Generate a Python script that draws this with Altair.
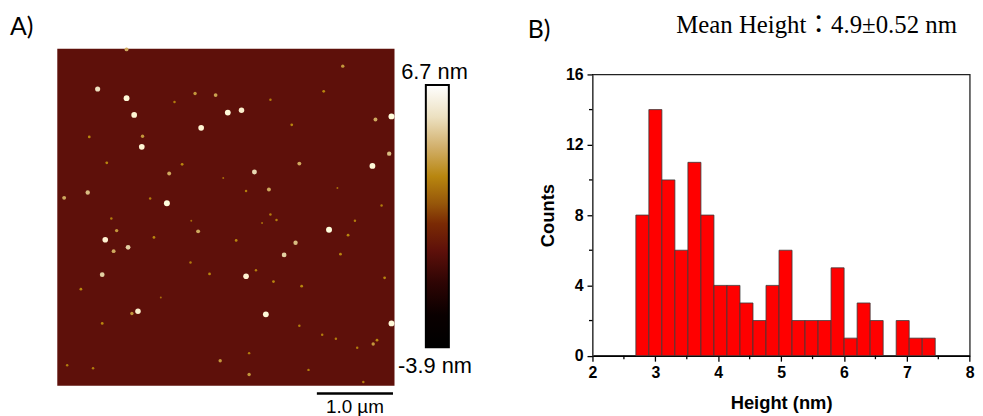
import altair as alt
import pandas as pd

# ---------------- Panel A : AFM height image ----------------
image_extent_um = [0.0, 4.43]
surface_level_nm = [0.0]
dot_x_um = [0.53, 0.91, 1.01, 2.24, 2.42, 1.89, 1.11, 4.14, 2.59, 1.44, 3.57, 0.63, 0.93, 3.13, 2.98, 2.48,
            0.59, 1.06, 2.74, 4.39, 4.39, 4.36, 0.40, 1.85, 1.47, 2.78, 3.18, 3.75, 3.50, 2.08, 1.81, 4.18,
            3.08, 0.42, 1.12, 1.64, 0.65, 0.09, 0.78, 0.74, 1.27, 2.35, 3.72, 3.82, 2.00, 2.84, 3.21, 0.31,
            1.36, 2.61, 4.30, 4.15, 4.20, 2.14, 2.52, 3.66, 3.48, 0.59, 0.13, 0.47, 3.94, 2.52, 3.18, 2.80,
            2.88, 2.48, 2.80, 1.54, 0.91, 3.91, 1.75, 1.22, 1.76, 0.71, 4.26, 3.68, 2.18, 2.69, 0.98, 4.02, 3.30]
dot_y_um = [0.53, 0.65, 0.87, 0.84, 0.81, 1.04, 1.29, 1.54, 1.62, 2.03, 2.38, 2.51, 2.61, 2.55, 2.71, 2.99,
            2.97, 3.45, 3.49, 3.61, 0.89, 1.38, 1.89, 2.40, 1.64, 1.85, 1.51, 0.23, 0.56, 0.61, 0.59, 0.93,
            1.00, 1.16, 1.15, 1.52, 1.50, 1.96, 2.39, 2.66, 2.48, 2.52, 2.70, 2.45, 2.96, 3.06, 3.12, 3.16,
            3.27, 2.91, 3.01, 3.88, 3.83, 4.10, 4.28, 3.81, 3.76, 3.61, 4.16, 4.20, 3.93, 4.00, 3.64, 2.18,
            2.25, 1.87, 0.67, 0.70, 0.01, 2.26, 2.81, 1.97, 2.26, 2.23, 2.06, 1.83, 1.70, 2.29, 3.48, 4.38, 4.22]
dot_height_nm = [5.5, 6.5, 6.3, 6.5, 6.0, 6.3, 6.3, 6.5, 5.2, 6.7, 6.7, 6.2, 5.0, 4.5, 5.0, 6.2,
                 5.0, 6.0, 6.5, 6.5, 6.7, 4.5, 4.5, 4.0, 4.0, 4.0, 4.0, 3.5, 3.0, 3.8, 3.5, 4.0,
                 3.0, 3.0, 3.5, 3.0, 3.0, 4.0, 3.5, 4.0, 3.0, 3.0, 3.0, 3.0, 3.0, 3.0, 3.0, 3.0,
                 2.5, 2.8, 3.0, 3.5, 3.0, 3.5, 3.5, 2.8, 2.8, 3.0, 2.8, 2.8, 2.8, 2.8, 2.8, 2.8,
                 2.8, 2.8, 2.8, 2.8, 4.0, 2.8, 2.8, 2.8, 2.5, 2.8, 2.8, 2.5, 2.5, 2.5, 3.5, 2.8, 2.8]
scalebar_um = [3.41, 4.41]
scalebar_label = ["1.0 µm"]
colorbar_range_nm = [-3.9, 6.7]
colorbar_labels = ["6.7 nm", "-3.9 nm"]
cmap_values = [-3.9, -2.6, -1.3, 0.0, 1.1, 1.9, 3.0, 4.2, 5.4, 6.7]
cmap_colors = ["#000000", "#0a0000", "#2e0504", "#5e100a", "#7a2a04",
               "#96560a", "#b8860f", "#d2b06c", "#ece0c0", "#ffffff"]

# ---------------- Panel B : height histogram ----------------
bin_left = [2.69, 2.897, 3.104, 3.311, 3.518, 3.725, 3.932, 4.139, 4.346, 4.553, 4.76, 4.967,
            5.174, 5.381, 5.588, 5.795, 6.002, 6.209, 6.416, 6.623, 6.83, 7.037, 7.244]
bin_width = 0.207
counts = [8, 14, 10, 6, 11, 8, 4, 4, 3, 2, 4, 6, 2, 2, 2, 5, 1, 3, 2, 0, 2, 1, 1]
x_domain = [2, 8]
y_domain = [0, 16]
x_ticks = [2, 3, 4, 5, 6, 7, 8]
x_minor = [2.5, 3.5, 4.5, 5.5, 6.5, 7.5]
y_ticks = [0, 4, 8, 12, 16]
y_minor = [2, 6, 10, 14]
hist_title = "Mean Height：4.9±0.52 nm"
panel_labels = ["A)", "B)"]
x_title = "Height (nm)"
y_title = "Counts"

# ---------------- layout (pixels, relative to the histogram plot origin) ----------------
PAD = {"left": 589.3, "top": 65.3, "right": 5.3, "bottom": 59.1}
W, H = 380.4, 283.6
IMG_X = [-539.6, -199.6]
IMG_Y = [-26.0, 314.0]
CB_X = [-168.0, -144.8]
CB_Y = [275.0, 10.7]
SANS = "Liberation Sans"


def ximg():
    return alt.Scale(domain=image_extent_um, range=IMG_X, nice=False, zero=False)


def yimg():
    return alt.Scale(domain=image_extent_um, range=IMG_Y, nice=False, zero=False)


def xh():
    return alt.Scale(domain=x_domain, nice=False, zero=False)


def yh():
    return alt.Scale(domain=y_domain, nice=False, zero=False)


cscale = alt.Scale(type="linear", domain=cmap_values, range=cmap_colors)

# ---- histogram (its plot area is the chart's view) ----
common_axis = dict(labelFont=SANS, labelFontWeight="bold", labelFontSize=16, labelColor="black",
                   titleFont=SANS, titleFontWeight="bold", titleFontSize=18.5, titleColor="black",
                   tickColor="black", tickWidth=1.3, tickSize=5.5, labelFlush=False, grid=False)
xaxis = alt.Axis(orient="bottom", values=x_ticks, title=x_title,
                 domainColor="black", domainWidth=1.6, labelPadding=3,
                 titleX=W / 2, titleY=53.1, titleAlign="center", titleBaseline="alphabetic",
                 **common_axis)
yaxis = alt.Axis(orient="left", values=y_ticks, title=y_title,
                 domainColor="#555555", domainWidth=1.1, labelPadding=4,
                 titleX=-45.3, titleY=H / 2, titleAngle=-90, titleAlign="center",
                 titleBaseline="middle", **common_axis)

bars_df = pd.DataFrame({"left": bin_left, "right": [b + bin_width for b in bin_left],
                        "base": [0] * len(counts), "count": counts})
bars = alt.Chart(bars_df).mark_rect(fill="#ff0000", stroke="#3a3a3a", strokeWidth=0.8).encode(
    x=alt.X("left:Q", scale=xh(), axis=xaxis), x2="right:Q",
    y=alt.Y("base:Q", scale=yh(), axis=yaxis), y2="count:Q")
xmin_t = alt.Chart(pd.DataFrame({"v": x_minor})).mark_rule(color="black", strokeWidth=1.3).encode(
    x=alt.X("v:Q", scale=xh(), axis=None), y=alt.value(H), y2=alt.value(H + 3.5))
ymin_t = alt.Chart(pd.DataFrame({"v": y_minor})).mark_rule(color="black", strokeWidth=1.3).encode(
    y=alt.Y("v:Q", scale=yh(), axis=None), x=alt.value(-3.5), x2=alt.value(0))

# ---- AFM image ----
bg_df = pd.DataFrame({"x0": [image_extent_um[0]], "x1": [image_extent_um[1]],
                      "y0": [image_extent_um[0]], "y1": [image_extent_um[1]],
                      "h": surface_level_nm})
bg = alt.Chart(bg_df).mark_rect().encode(
    x=alt.X("x0:Q", scale=ximg(), axis=None), x2="x1:Q",
    y=alt.Y("y0:Q", scale=yimg(), axis=None), y2="y1:Q",
    color=alt.Color("h:Q", scale=cscale, legend=None),
)
dots_df = pd.DataFrame({"x": dot_x_um, "y": dot_y_um, "h": dot_height_nm})
dots = alt.Chart(dots_df).mark_circle(opacity=1).encode(
    x=alt.X("x:Q", scale=ximg(), axis=None),
    y=alt.Y("y:Q", scale=yimg(), axis=None),
    color=alt.Color("h:Q", scale=cscale, legend=None),
    size=alt.Size("h:Q", scale=alt.Scale(domain=[2.5, 6.7], range=[4, 36]), legend=None),
)
sb_df = pd.DataFrame({"x0": [scalebar_um[0]], "x1": [scalebar_um[1]],
                      "xc": [(scalebar_um[0] + scalebar_um[1]) / 2], "label": scalebar_label})
sbar = alt.Chart(sb_df).mark_rule(color="black", strokeWidth=2.5).encode(
    x=alt.X("x0:Q", scale=ximg(), axis=None), x2="x1:Q", y=alt.value(321.7))
stext = alt.Chart(sb_df).mark_text(font=SANS, fontSize=19, align="center", baseline="alphabetic",
                                   color="black").encode(
    x=alt.X("xc:Q", scale=ximg(), axis=None), y=alt.value(341.5), text="label:N")

# ---- colour bar ----
lo, hi = colorbar_range_nm
stops = [alt.GradientStop(offset=(v - lo) / (hi - lo), color=c) for v, c in zip(cmap_values, cmap_colors)]
cb_df = pd.DataFrame({"lo": [lo], "hi": [hi]})
cbar = alt.Chart(cb_df).mark_rect(
    fill=alt.Gradient(gradient="linear", stops=stops, x1=0, x2=0, y1=1, y2=0),
    stroke="black", strokeWidth=2,
).encode(x=alt.value(CB_X[0]), x2=alt.value(CB_X[1]),
         y=alt.Y("lo:Q", scale=alt.Scale(domain=colorbar_range_nm, range=CB_Y, nice=False, zero=False),
                 axis=None), y2="hi:Q")
cbl_top = alt.Chart(pd.DataFrame({"t": [colorbar_labels[0]]})).mark_text(
    font=SANS, fontSize=22, align="center", baseline="alphabetic", color="black").encode(
    x=alt.value(-159.3), y=alt.value(5.0), text="t:N")
cbl_bot = alt.Chart(pd.DataFrame({"t": [colorbar_labels[1]]})).mark_text(
    font=SANS, fontSize=22, align="center", baseline="alphabetic", color="black").encode(
    x=alt.value(-158.8), y=alt.value(300.7), text="t:N")

# ---- texts ----
lab_a = alt.Chart(pd.DataFrame({"t": [panel_labels[0]]})).mark_text(
    font="Lato", fontSize=25, align="left", baseline="alphabetic", color="black").encode(
    x=alt.value(-587.3), y=alt.value(-40.0), text="t:N")
lab_b = alt.Chart(pd.DataFrame({"t": [panel_labels[1]]})).mark_text(
    font="Lato", fontSize=25, align="left", baseline="alphabetic", color="black").encode(
    x=alt.value(-65.3), y=alt.value(-36.6), text="t:N")
ttl = alt.Chart(pd.DataFrame({"t": [hist_title]})).mark_text(
    font="Liberation Serif, Noto Sans CJK JP", fontSize=25, align="left", baseline="alphabetic",
    color="black").encode(x=alt.value(84.5), y=alt.value(-41.3), text="t:N")

chart = alt.layer(
    bars, xmin_t, ymin_t, bg, dots, sbar, stext, cbar, cbl_top, cbl_bot, lab_a, lab_b, ttl
).resolve_scale(
    x="independent", y="independent"
).properties(
    width=W, height=H, autosize=alt.AutoSizeParams(type="none"), padding=PAD
).configure_view(stroke="#222222", strokeWidth=1.3)

chart.save("out.html", embed_options={"renderer": "svg", "actions": False})
